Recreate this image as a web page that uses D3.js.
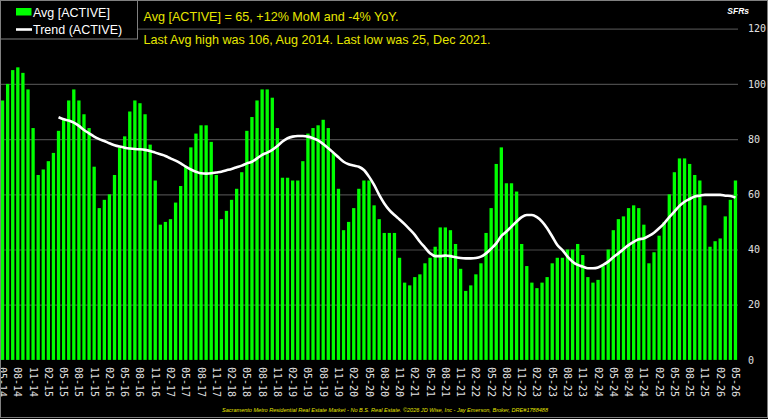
<!DOCTYPE html>
<html>
<head>
<meta charset="utf-8">
<script src="https://cdn.jsdelivr.net/npm/d3@7"></script>
<style>
  body { margin: 0; background: #000; }
  svg { display: block; }
</style>
</head>
<body>
<div class="viz"></div>
<script>
// monthly average active listings, May 2014 .. May 2026
const active = [
  94, 100, 105, 106, 104, 98, 84, 67, 69, 72, 75, 83,
  87, 94, 98, 94, 89, 84, 70, 55, 58, 60, 67, 77,
  81, 90, 94, 93, 89, 78, 65, 49, 50, 51, 57, 63,
  70, 77, 82, 85, 85, 79, 67, 51, 54, 58, 62, 68,
  83, 88, 94, 98, 98, 95, 84, 66, 66, 65, 65, 72,
  82, 84, 85, 87, 84, 75, 62, 47, 50, 55, 62, 65,
  65, 56, 51, 46, 46, 46, 37, 28, 27, 30, 31, 35,
  37, 41, 48, 48, 47, 42, 33, 25, 27, 31, 35, 46,
  55, 71, 77, 64, 64, 61, 42, 34, 28, 26, 28, 30,
  35, 37, 37, 40, 40, 42, 38, 30, 28, 29, 34, 40,
  47, 51, 52, 55, 56, 55, 49, 35, 39, 45, 50, 60,
  68, 73, 73, 71, 67, 65, 56, 41, 43, 44, 52, 58, 65
];

// trend line, starts at the 12th month (Apr 2015)
const trend = [
  87.9, 87.2, 86.7, 86.0, 84.8, 83.3, 82.1, 80.9, 80.0,
  79.3, 78.5, 77.8, 77.3, 76.9, 76.6, 76.4, 76.3, 76.1, 75.7,
  75.1, 74.5, 73.9, 73.0, 72.2, 71.2, 70.0, 69.0, 68.2, 67.6,
  67.5, 67.6, 67.9, 68.2, 68.7, 69.2, 69.8, 70.4, 71.2, 71.8,
  73.0, 74.3, 75.1, 76.1, 77.5, 79.1, 80.3, 80.9, 81.1, 81.1,
  80.9, 80.3, 79.5, 78.2, 76.7, 75.1, 73.4, 71.8, 70.9, 70.4,
  70.0, 68.8, 66.4, 63.4, 59.8, 56.7, 54.3, 52.5, 50.9, 49.2,
  47.3, 45.3, 42.8, 40.7, 38.6, 37.6, 37.6, 37.8, 37.6, 37.2,
  36.9, 36.8, 36.8, 36.9, 37.4, 38.6, 40.3, 42.2, 44.9, 46.5,
  48.3, 50.1, 51.7, 52.5, 52.5, 51.7, 50.1, 47.7, 44.7, 41.6,
  39.8, 37.4, 35.6, 34.4, 33.8, 33.2, 33.2, 33.5, 34.4, 35.6,
  37.2, 38.6, 40.1, 41.6, 42.8, 43.7, 44.0, 44.9, 46.1, 47.7,
  49.5, 51.7, 53.7, 55.8, 57.3, 58.3, 59.2, 59.5, 59.8, 59.8,
  59.8, 59.8, 59.5, 59.4, 58.8
];

const yTicks = [0, 20, 40, 60, 80, 100, 120];

const titleLines = [
  "Avg [ACTIVE] = 65, +12% MoM and -4% YoY.",
  "Last Avg high was 106, Aug 2014. Last low was 25, Dec 2021."
];
const footer = "Sacramento Metro Residential Real Estate Market - No B.S. Real Estate. \u00a92026 JD Wise, Inc - Jay Emerson, Broker, DRE#1788488";

const months = d3.timeMonths(new Date(2014, 4, 1), new Date(2026, 5, 1));
const fmt = d3.timeFormat("%m-%y");
const data = months.map((m, i) => ({month: m, value: active[i]}));
const trendData = trend.map((v, i) => ({month: months[i + 11], value: v}));

const width = 768, height = 419;
const plotRight = 738, yTop = 28.7, yBottom = 359.9;

const svg = d3.select('.viz').append('svg')
    .attr('width', width)
    .attr('height', height);

svg.append('rect')
    .attr('width', width).attr('height', height)
    .attr('fill', '#000');

const x = d3.scaleBand()
    .domain(months)
    .range([0, plotRight])
    .paddingInner(0.35)
    .paddingOuter(0.175);

const y = d3.scaleLinear()
    .domain([0, 120])
    .range([yBottom, yTop]);

// grid
svg.append('g')
    .call(d3.axisRight(y).tickValues(yTicks.slice(1)).tickSize(plotRight).tickFormat(''))
    .call(g => g.select('.domain').remove())
    .call(g => g.selectAll('line').attr('stroke', '#4a4a4a').attr('stroke-width', 1.2));

// bars
svg.append('g')
    .attr('fill', '#00ff00')
  .selectAll('rect').data(data).enter().append('rect')
    .attr('x', d => x(d.month))
    .attr('y', d => y(d.value))
    .attr('width', x.bandwidth())
    .attr('height', d => y(0) - y(d.value));

// trend
const line = d3.line()
    .x(d => x(d.month) + x.bandwidth() / 2)
    .y(d => y(d.value))
    .curve(d3.curveMonotoneX);

svg.append('path')
    .datum(trendData)
    .attr('fill', 'none')
    .attr('stroke', '#fff')
    .attr('stroke-width', 2.6)
    .attr('d', line);

// right axis
svg.append('g')
    .attr('transform', `translate(${plotRight},0)`)
    .call(d3.axisRight(y).tickValues(yTicks).tickSize(0).tickPadding(10))
    .call(g => g.select('.domain').remove())
    .call(g => g.selectAll('text')
        .attr('fill', '#e0e0e0')
        .style('font', '10px "DejaVu Sans Mono"'));

// bottom axis
svg.append('g')
    .attr('transform', `translate(0,${yBottom})`)
    .call(d3.axisBottom(x)
        .tickValues(months.filter((m, i) => i % 3 === 0))
        .tickFormat(fmt)
        .tickSize(0))
    .call(g => g.select('.domain').remove())
    .call(g => g.selectAll('text')
        .attr('fill', '#e0e0e0')
        .style('font', '10px "DejaVu Sans Mono"')
        .style('text-anchor', 'start')
        .attr('transform', 'rotate(90)')
        .attr('x', 7)
        .attr('y', 0)
        .attr('dy', '0.35em'));

// legend
const legend = svg.append('g');
legend.append('rect')
    .attr('x', 0.5).attr('y', 0.5)
    .attr('width', 137).attr('height', 38.5)
    .attr('fill', '#000')
    .attr('stroke', '#808080');
legend.append('rect')
    .attr('x', 16).attr('y', 8)
    .attr('width', 15.5).attr('height', 7.5)
    .attr('fill', '#00ff00');
legend.append('line')
    .attr('x1', 16).attr('x2', 32)
    .attr('y1', 29.5).attr('y2', 29.5)
    .attr('stroke', '#fff').attr('stroke-width', 2.6);
legend.selectAll('text')
    .data(['Avg [ACTIVE]', 'Trend (ACTIVE)'])
    .enter().append('text')
    .attr('x', 33)
    .attr('y', (d, i) => 16.5 + i * 17)
    .attr('fill', '#fff')
    .style('font', '12.5px "Liberation Sans", Arial, sans-serif')
    .text(d => d);

// title lines
svg.selectAll('.title')
    .data(titleLines)
    .enter().append('text')
    .attr('class', 'title')
    .attr('x', 143.5)
    .attr('y', (d, i) => 21 + i * 23)
    .attr('fill', '#e6e600')
    .style('font', '12.6px "Liberation Sans", Arial, sans-serif')
    .text(d => d);

svg.append('text')
    .attr('x', 749).attr('y', 14)
    .attr('text-anchor', 'end')
    .attr('fill', '#fff')
    .style('font', 'italic bold 8.5px "Liberation Sans", Arial, sans-serif')
    .text('SFRs');

svg.append('text')
    .attr('x', 385).attr('y', 412)
    .attr('text-anchor', 'middle')
    .attr('fill', '#e6e600')
    .attr('textLength', 326)
    .attr('lengthAdjust', 'spacingAndGlyphs')
    .style('font', 'italic 5.6px "Liberation Sans", Arial, sans-serif')
    .text(footer);

// outer frame
svg.append('rect')
    .attr('x', 0.5).attr('y', 0.5)
    .attr('width', width - 1).attr('height', height - 2)
    .attr('fill', 'none')
    .attr('stroke', '#808080');
</script>
</body>
</html>
